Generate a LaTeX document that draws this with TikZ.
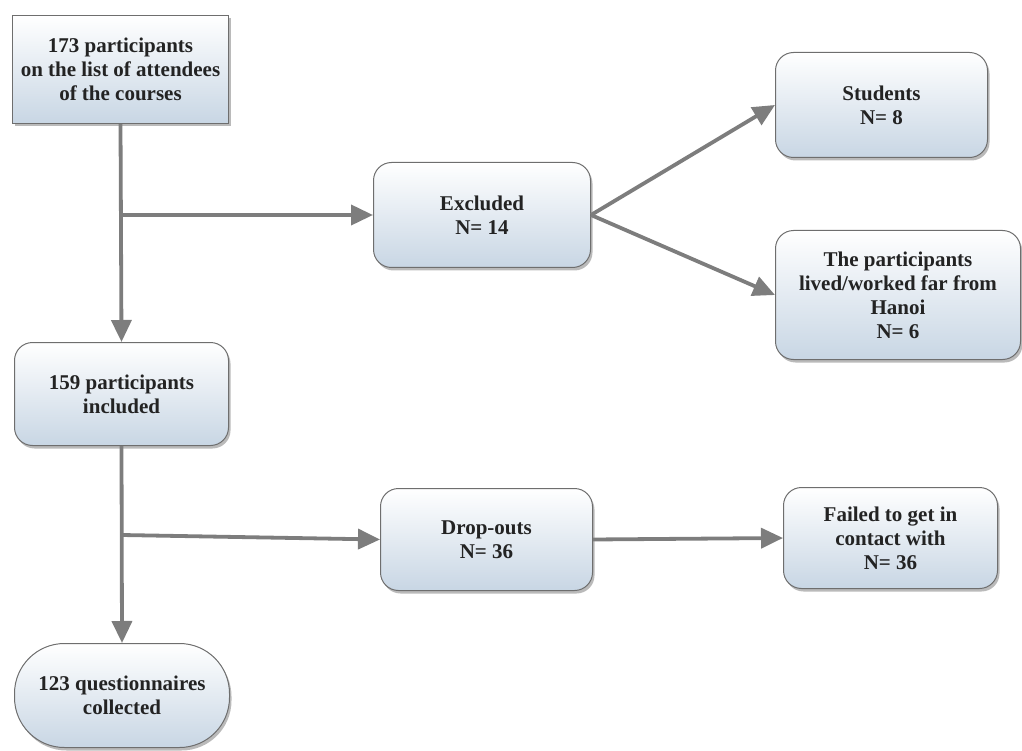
\documentclass[tikz,border=0pt]{standalone}
\usepackage{fontspec}
\setmainfont{Liberation Serif}
\usetikzlibrary{arrows.meta,shadows,positioning}
\definecolor{boxbot}{RGB}{200,214,228}
\definecolor{boxline}{RGB}{110,110,110}
\definecolor{conn}{RGB}{125,125,125}
\definecolor{txt}{RGB}{35,35,35}
\begin{document}
\begin{tikzpicture}[x=1pt,y=-1pt,
  box/.style={draw=boxline, line width=1pt, top color=white, bottom color=boxbot,
    anchor=north west, align=center, inner sep=3pt, text=txt,
    font=\fontsize{21}{24}\selectfont\bfseries,
    drop shadow={shadow xshift=2pt, shadow yshift=-3pt, fill=black!45, opacity=0.6}},
  rbox/.style={box, rounded corners=18pt},
  conn/.style={draw=conn, line width=3.8pt, -{Triangle[length=22pt,width=20pt]}}]
\useasboundingbox (0,0) rectangle (1022,751);
\node[box, minimum width=216pt, minimum height=108pt] (top) at (12,15)
  {173 participants\\on the list of attendees\\of the courses};
\node[rbox, minimum width=217pt, minimum height=105pt] (exc) at (373,162)
  {Excluded\\N= 14};
\node[rbox, minimum width=212pt, minimum height=105pt] (stu) at (775,52)
  {Students\\N= 8};
\node[rbox, minimum width=245pt, minimum height=129pt] (far) at (775,230)
  {The participants\\lived/worked far from\\Hanoi\\N= 6};
\node[rbox, minimum width=214pt, minimum height=103pt] (inc) at (14,342)
  {159 participants\\included};
\node[rbox, minimum width=212pt, minimum height=102pt] (drop) at (380,488)
  {Drop-outs\\N= 36};
\node[rbox, minimum width=214pt, minimum height=101pt] (fail) at (783,487)
  {Failed to get in\\contact with\\N= 36};
\node[box, rounded corners=50pt, minimum width=215pt, minimum height=104pt] (col) at (14,643)
  {123 questionnaires\\collected};
\coordinate (b1) at (120,215);
\coordinate (b2) at (122,535);
\draw[conn] (top.south) -- (inc.north);
\draw[conn] (inc.south) -- (col.north);
\draw[conn] (b1) -- (exc.west);
\draw[conn] (b2) -- (drop.west);
\draw[conn] (exc.east) -- (stu.west);
\draw[conn] (exc.east) -- (far.west);
\draw[conn] (drop.east) -- (fail.west);
\end{tikzpicture}
\end{document}
